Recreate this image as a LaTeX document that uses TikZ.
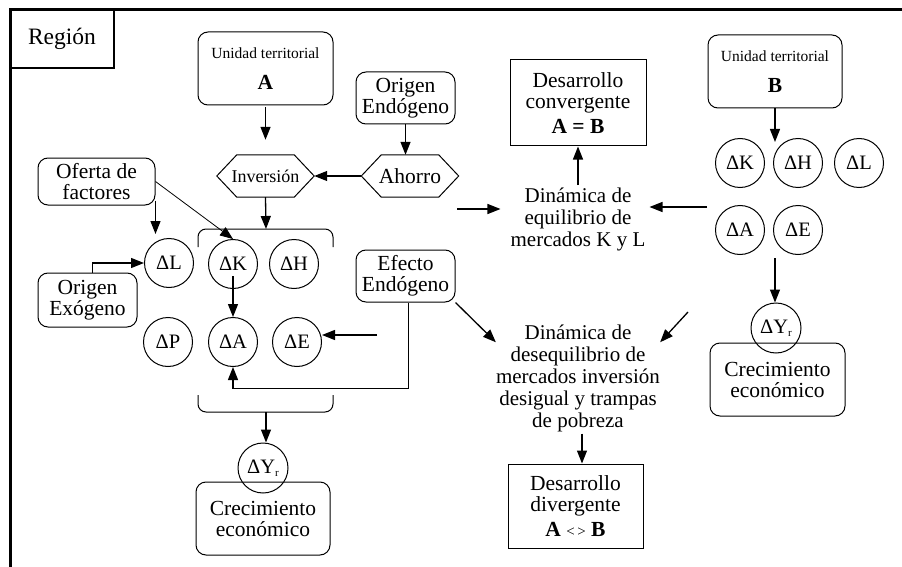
\documentclass[tikz,border=0pt]{standalone}
\usepackage{fontspec}
\setmainfont{Liberation Serif}
\usetikzlibrary{arrows.meta,calc}
\newcommand\hexdraw[1]{\draw[line width=1pt] (#1.west) -- ([xshift=20pt]#1.north west) -- ([xshift=-20pt]#1.north east) -- (#1.east) -- ([xshift=-20pt]#1.south east) -- ([xshift=20pt]#1.south west) -- cycle;}
\newcommand\subr{\raisebox{-3pt}{\fontsize{11}{11}\selectfont r}}
\begin{document}
\begin{tikzpicture}[x=1pt,y=-1pt,
  every node/.style={inner sep=0pt, align=center, font=\fontsize{21.5}{21}\selectfont},
  rbox/.style={draw, line width=1pt, rounded corners=10pt},
  sbox/.style={draw, line width=1pt},
  circ/.style={draw, circle, line width=1pt, minimum size=49pt, font=\fontsize{20.5}{20}\selectfont},
  hexa/.style={minimum width=97pt, minimum height=42pt},
  arr/.style={line width=1.3pt, -{Triangle[length=13pt,width=10pt]}},
  thinarr/.style={line width=0.8pt, -{Triangle[length=13pt,width=10pt]}},
  bracket/.style={line width=1pt, rounded corners=8pt},
  txt/.style={font=\fontsize{21}{22}\selectfont, inner sep=2pt}
]
\useasboundingbox (0,0) rectangle (902,567);
% frame
\node[draw, line width=1.3pt, minimum width=104pt, minimum height=58pt, font=\fontsize{23.5}{23}\selectfont] (reg) at (62,39) {Región};
\draw[line width=3pt] (10,567) -- (10,10) -- (902,10);

% left part
\node[rbox, minimum width=135pt, minimum height=73pt] (uA) at (265.5,68.5)
  {{\fontsize{15.5}{15}\selectfont Unidad territorial}\\[10pt]{\bfseries A}};
\node[rbox, minimum width=99pt, minimum height=52pt] (oEnd) at (405.5,98) {Origen\\Endógeno};
\node[hexa, font=\fontsize{18}{18}\selectfont] (inv) at (265.5,176) {Inversión};
\hexdraw{inv}
\node[hexa] (aho) at (410,176) {Ahorro};
\hexdraw{aho}
\node[rbox, minimum width=117pt, minimum height=47pt] (ofe) at (96.5,181.5) {Oferta de\\factores};
\node[rbox, minimum width=99pt, minimum height=54pt] (oExo) at (87.5,300) {Origen\\Exógeno};
\node[rbox, minimum width=99pt, minimum height=52pt] (efe) at (405.5,276) {Efecto\\Endógeno};

\node[circ] (dL) at (169,263) {ΔL};
\node[circ] (dK) at (233,264) {ΔK};
\node[circ] (dH) at (294,264) {ΔH};
\node[circ] (dP) at (168,342) {ΔP};
\node[circ] (dA) at (233,342) {ΔA};
\node[circ] (dE) at (297,342) {ΔE};

\draw[bracket] (198,247) -- (198,229) -- (333,229) -- (333,247);
\draw[bracket] (198,395) -- (198,412) -- (333,412) -- (333,395);
\coordinate (btop) at (266,229);
\coordinate (bbot) at (266,412);

\node[rbox, minimum width=134pt, minimum height=73pt] (creA) at (263,518.5) {Crecimiento\\económico};
\node[circ, minimum size=50pt] (dYa) at (263,468) {ΔY\subr};

% right part
\node[sbox, minimum width=136pt, minimum height=86pt] (conv) at (578,103)
  {Desarrollo\\convergente\\[4pt]{\bfseries A = B}};
\node[txt] (dinEq) at (578,219) {Dinámica de\\equilibrio de\\mercados K y L};
\node[rbox, minimum width=134pt, minimum height=73pt] (uB) at (775,71.5)
  {{\fontsize{15.5}{15}\selectfont Unidad territorial}\\[10pt]{\bfseries B}};
\node[circ] (bK) at (740,163) {ΔK};
\node[circ] (bH) at (798,163) {ΔH};
\node[circ] (bL) at (859,163) {ΔL};
\node[circ] (bA) at (740,230) {ΔA};
\node[circ] (bE) at (798,230) {ΔE};
\node[rbox, minimum width=135pt, minimum height=73pt] (creB) at (777.5,379.5) {Crecimiento\\económico};
\node[circ, minimum size=50pt] (dYb) at (776,328) {ΔY\subr};
\node[txt] (dinDes) at (578,378) {Dinámica de\\desequilibrio de\\mercados inversión\\desigual y trampas\\de pobreza};
\node[sbox, minimum width=135pt, minimum height=84pt] (div) at (575.5,506)
  {Desarrollo\\divergente\\[4pt]{\bfseries A {\fontsize{15}{15}\selectfont\mdseries<\,>} B}};

% connectors left
\draw[arr, shorten <=2pt, shorten >=15pt] (uA.south) -- (inv.north);
\draw[arr] (oEnd.south) -- (oEnd.south |- aho.north);
\draw[arr] (aho.west) -- (inv.east);
\draw[arr] (inv.south) -- (btop);
\draw[arr] ([yshift=5pt]ofe.south east) -- ([yshift=4pt]ofe.south east |- dL.north);
\draw[thinarr] (ofe.east) -- (dK.north);
\draw[arr] ([xshift=5pt]oExo.north) |- (dL.west);
\draw[arr] ([yshift=-12pt]dK.center) -- (dA.north);
\coordinate (eIn) at (377,335);
\draw[arr] (eIn) -- (eIn -| dE.east);
\draw[arr] ([xshift=3pt]efe.south) -- ++(0,86) -| (dA.south);
\draw[arr] (bbot) -- (bbot |- dYa.north);

% connectors right
\draw[arr] (dinEq.north) -- (conv.south);
\coordinate (eqL) at (457,209);
\draw[arr, shorten >=8pt] (eqL) -- (eqL -| dinEq.west);
\coordinate (eqR) at (707,207);
\draw[arr, shorten >=2pt] (eqR) -- (eqR -| dinEq.east);
\draw[arr] (uB.south) -- ([yshift=-4pt]uB.south |- bK.north);
\coordinate (bBot) at (775,258);
\draw[arr] (bBot) -- (bBot |- dYb.north);
\draw[arr] (efe.south east) -- ($(dinDes.north west)+(2,20)$);
\coordinate (dsR) at (688,312);
\draw[arr] (dsR) -- ($(dinDes.north east)+(-2,20)$);
\draw[arr] ([xshift=4pt]dinDes.south) -- ([xshift=4pt]dinDes.south |- div.north);
\end{tikzpicture}
\end{document}
